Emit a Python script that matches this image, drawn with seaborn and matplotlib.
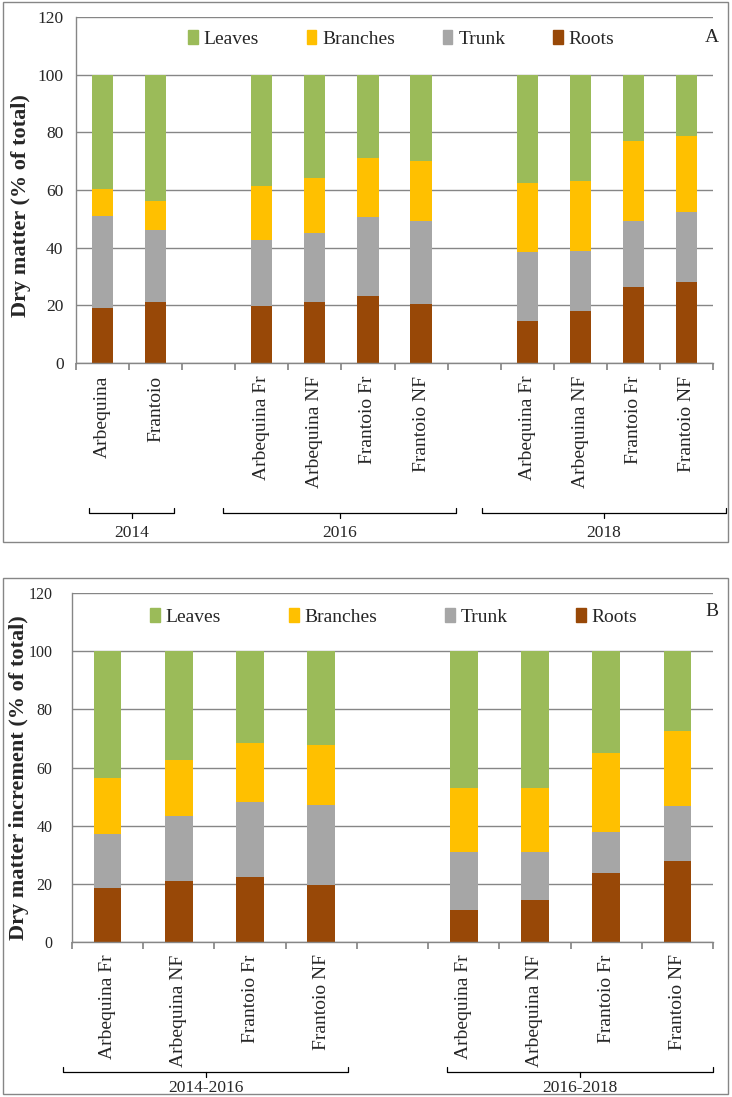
import matplotlib
matplotlib.use("Agg")
import numpy as np
import pandas as pd
import matplotlib.pyplot as plt
import matplotlib.patches as mpatches
from matplotlib.transforms import blended_transform_factory
import seaborn as sns

sns.set_theme(style="white")
plt.rcParams["font.family"] = ["Liberation Serif", "DejaVu Serif"]

# ─── DATA ────────────────────────────────────────────────────────────────────
PARTS = ["Leaves", "Branches", "Trunk", "Roots"]
COLORS = {"Leaves": "#9BBB59", "Branches": "#FFC000", "Trunk": "#A6A6A6", "Roots": "#984807"}

# Panel A: dry matter partitioning (% of total)
a_groups = ["2014", "2016", "2018"]
a_cultivars = [
    ["Arbequina", "Frantoio"],
    ["Arbequina Fr", "Arbequina NF", "Frantoio Fr", "Frantoio NF"],
    ["Arbequina Fr", "Arbequina NF", "Frantoio Fr", "Frantoio NF"],
]
a_roots    = [19.2, 21.0, 19.6, 21.0, 23.2, 20.3, 14.5, 18.1, 26.4, 28.2]
a_trunk    = [31.7, 25.2, 23.1, 24.2, 27.3, 28.8, 24.1, 20.8, 23.0, 24.1]
a_branches = [9.6, 10.0, 18.6, 18.9, 20.5, 20.8, 23.7, 24.1, 27.7, 26.6]
a_leaves   = [39.5, 43.8, 38.7, 35.9, 29.0, 30.1, 37.7, 37.0, 22.9, 21.1]

# Panel B: dry matter increment (% of total)
b_groups = ["2014-2016", "2016-2018"]
b_cultivars = [
    ["Arbequina Fr", "Arbequina NF", "Frantoio Fr", "Frantoio NF"],
    ["Arbequina Fr", "Arbequina NF", "Frantoio Fr", "Frantoio NF"],
]
b_roots    = [18.4, 20.9, 22.3, 19.5, 11.0, 14.5, 23.8, 28.0]
b_trunk    = [18.9, 22.4, 25.9, 27.7, 19.9, 16.4, 14.1, 18.9]
b_branches = [19.2, 19.2, 20.3, 20.6, 22.0, 22.0, 27.1, 25.8]
b_leaves   = [43.5, 37.5, 31.5, 32.2, 47.1, 47.1, 35.0, 27.3]

W, H = 732, 1097
GRID = "#868686"


def fx(px): return px / W
def fy(py): return 1 - py / H


def build_frame(groups, cultivars, roots, trunk, branches, leaves):
    """One row per bar; an empty slot is left between groups."""
    rows, slot = [], 0
    for g, names in zip(groups, cultivars):
        for n in names:
            rows.append({"group": g, "label": n, "pos": slot})
            slot += 1
        slot += 1
    df = pd.DataFrame(rows)
    df["Roots"], df["Trunk"], df["Branches"], df["Leaves"] = roots, trunk, branches, leaves
    return df, slot - 1


def draw_panel(fig, ax, df, n_slots, ylabel, bar_width, ypad, ysize):
    # stacked bars: draw cumulative tops, tallest first
    stack = ["Roots", "Trunk", "Branches", "Leaves"]
    cum = df[stack].cumsum(axis=1)
    for part in reversed(stack):
        sns.barplot(x=df["pos"], y=cum[part], native_scale=True, orient="x",
                    color=COLORS[part], saturation=1, width=bar_width,
                    errorbar=None, linewidth=0, ax=ax)

    ax.set_xlim(-0.5, n_slots - 0.5)
    ax.set_ylim(0, 120)
    ax.set_yticks(np.arange(0, 121, 20))
    ax.yaxis.grid(True, color=GRID, lw=1.0)
    ax.set_axisbelow(True)
    for s in ["top", "right"]:
        ax.spines[s].set_visible(False)
    for s in ["left", "bottom"]:
        ax.spines[s].set_color(GRID)
        ax.spines[s].set_linewidth(1.0)

    ax.set_xticks(np.arange(-0.5, n_slots, 1.0))
    ax.set_xticklabels([])
    ax.set_xticks(df["pos"].values, minor=True)
    ax.set_xticklabels(df["label"].values, minor=True, rotation=90, fontsize=14)
    ax.tick_params(axis="x", which="major", length=5, color=GRID, direction="out")
    ax.tick_params(axis="x", which="minor", length=0, pad=9)
    ax.tick_params(axis="y", length=5, color=GRID, direction="out", labelsize=ysize, pad=ypad)
    ax.tick_params(axis="x", bottom=True, which="both")
    ax.set_xlabel("")
    ax.set_ylabel(ylabel, fontsize=16, fontweight="bold")


def draw_bracket(fig, ax, x0, x1, y_px, text, text_px):
    tr = blended_transform_factory(ax.transData, fig.transFigure)
    yb, yt, yc = fy(y_px), fy(y_px - 5), fy(y_px + 5)
    xm = (x0 + x1) / 2
    ax.plot([x0, x0, x1, x1], [yt, yb, yb, yt], color="black", lw=0.9,
            transform=tr, clip_on=False)
    ax.plot([xm, xm], [yb, yc], color="black", lw=0.9, transform=tr, clip_on=False)
    ax.text(xm, fy(text_px), text, transform=tr, ha="center", va="center", fontsize=12.5)


def add_legend(fig, ax, x_px, y_px, colspace):
    handles = [mpatches.Patch(color=COLORS[p], label=p) for p in PARTS]
    ax.legend(handles=handles, ncol=4, loc="center left",
              bbox_to_anchor=(fx(x_px), fy(y_px)), bbox_transform=fig.transFigure,
              frameon=False, fontsize=14, handlelength=0.5, handleheight=0.7,
              handletextpad=0.3, columnspacing=colspace, borderpad=0, borderaxespad=0)


fig = plt.figure(figsize=(W / 100, H / 100), dpi=100)
fig.patch.set_facecolor("white")

# panel frames
for (x0, y0, x1, y1) in [(3, 2, 728, 542), (3, 578, 728, 1094)]:
    fig.patches.append(mpatches.Rectangle((fx(x0), fy(y1)), fx(x1) - fx(x0), fy(y0) - fy(y1),
                                          transform=fig.transFigure, fill=False,
                                          edgecolor=GRID, lw=1.0))

# ─── PANEL A ─────────────────────────────────────────────────────────────────
ax_a = fig.add_axes([fx(76), fy(363), fx(713) - fx(76), fy(17) - fy(363)])
df_a, n_a = build_frame(a_groups, a_cultivars, a_roots, a_trunk, a_branches, a_leaves)
draw_panel(fig, ax_a, df_a, n_a, "Dry matter (% of total)", 0.40, 4, 12.5)
ax_a.yaxis.set_label_coords(fx(31), fy(206), transform=fig.transFigure)
add_legend(fig, ax_a, 188, 39, 2.45)
fig.text(fx(712), fy(37), "A", fontsize=14, ha="center", va="center")
for g, (x0, x1) in zip(a_groups, [(-0.25, 1.35), (2.27, 6.66), (7.14, 11.74)]):
    draw_bracket(fig, ax_a, x0, x1, 513, g, 533)

# ─── PANEL B ─────────────────────────────────────────────────────────────────
ax_b = fig.add_axes([fx(72), fy(942), fx(713) - fx(72), fy(593) - fy(942)])
df_b, n_b = build_frame(b_groups, b_cultivars, b_roots, b_trunk, b_branches, b_leaves)
draw_panel(fig, ax_b, df_b, n_b, "Dry matter increment (% of total)", 0.39, 9, 11.5)
ax_b.yaxis.set_label_coords(fx(29), fy(778), transform=fig.transFigure)
add_legend(fig, ax_b, 150, 617, 3.5)
fig.text(fx(712), fy(612), "B", fontsize=14, ha="center", va="center")
for g, (x0, x1) in zip(b_groups, [(-0.62, 3.38), (4.77, 8.5)]):
    draw_bracket(fig, ax_b, x0, x1, 1072, g, 1088)

fig.savefig("out.png", dpi=100, facecolor="white")
